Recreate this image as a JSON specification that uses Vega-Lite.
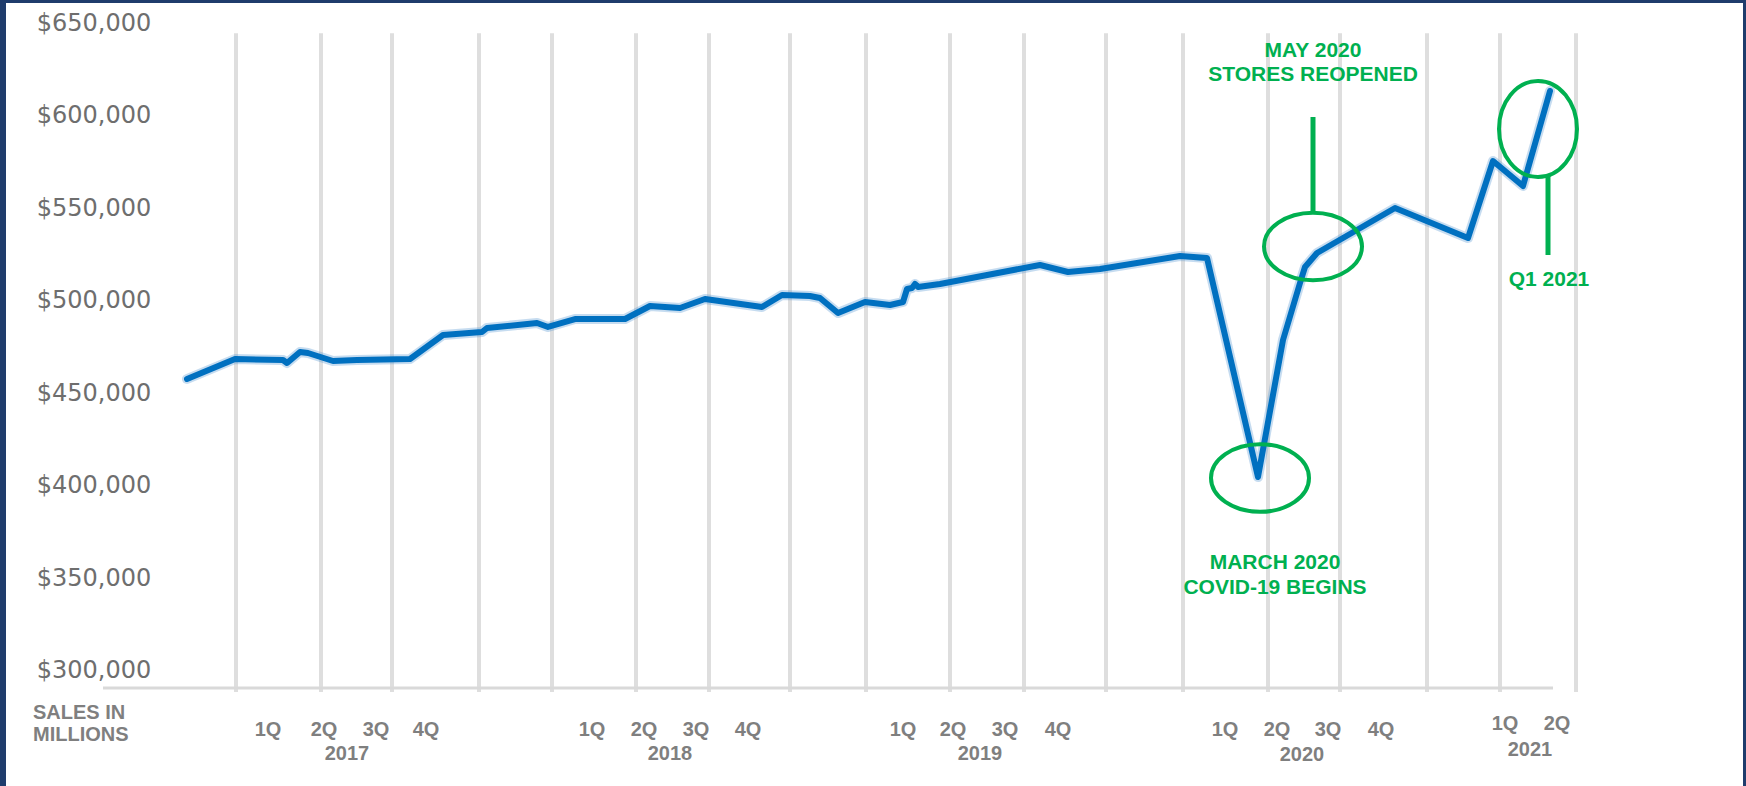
{
  "$schema": "https://vega.github.io/schema/vega-lite/v6.json",
  "width": 1746,
  "height": 786,
  "autosize": {"type": "fit", "contains": "padding"},
  "padding": {"left": 6, "top": 3, "right": 3, "bottom": 0},
  "background": "#1f3c6c",
  "config": {"view": {"fill": "#ffffff", "stroke": null}},
  "datasets": {
    "sales": [
      {"pos": 187, "sales": 457960}, {"pos": 235, "sales": 468780}, {"pos": 283, "sales": 468240},
      {"pos": 287, "sales": 466610}, {"pos": 300, "sales": 472560}, {"pos": 308, "sales": 472020},
      {"pos": 333, "sales": 467700}, {"pos": 357, "sales": 468240}, {"pos": 410, "sales": 468780},
      {"pos": 443, "sales": 481760}, {"pos": 482, "sales": 483380}, {"pos": 487, "sales": 485550},
      {"pos": 537, "sales": 488250}, {"pos": 548, "sales": 486090}, {"pos": 575, "sales": 490410},
      {"pos": 625, "sales": 490410}, {"pos": 650, "sales": 497450}, {"pos": 680, "sales": 496370},
      {"pos": 705, "sales": 501230}, {"pos": 762, "sales": 496910}, {"pos": 782, "sales": 503400},
      {"pos": 810, "sales": 502860}, {"pos": 820, "sales": 501770}, {"pos": 838, "sales": 493660},
      {"pos": 865, "sales": 499610}, {"pos": 890, "sales": 497990}, {"pos": 903, "sales": 499610},
      {"pos": 907, "sales": 506640}, {"pos": 912, "sales": 507180}, {"pos": 915, "sales": 509350},
      {"pos": 918, "sales": 507730}, {"pos": 940, "sales": 509350}, {"pos": 1040, "sales": 519630},
      {"pos": 1068, "sales": 515840}, {"pos": 1100, "sales": 517460}, {"pos": 1180, "sales": 524490},
      {"pos": 1207, "sales": 523410}, {"pos": 1258, "sales": 404940}, {"pos": 1283, "sales": 479050},
      {"pos": 1300, "sales": 509890}, {"pos": 1305, "sales": 518540}, {"pos": 1317, "sales": 526120},
      {"pos": 1395, "sales": 550460}, {"pos": 1468, "sales": 534230}, {"pos": 1493, "sales": 575890},
      {"pos": 1523, "sales": 562360}, {"pos": 1550, "sales": 613750}
    ],
    "grid": [
      {"pos": 236}, {"pos": 321}, {"pos": 392}, {"pos": 479}, {"pos": 552}, {"pos": 636},
      {"pos": 709}, {"pos": 790}, {"pos": 866}, {"pos": 950}, {"pos": 1024}, {"pos": 1106},
      {"pos": 1183}, {"pos": 1268}, {"pos": 1340}, {"pos": 1427}, {"pos": 1500}, {"pos": 1576}
    ],
    "baseline": [{"pos": 103, "pos2": 1553, "sales": 290804}],
    "ticks": [
      {"sales": 300000}, {"sales": 350000}, {"sales": 400000}, {"sales": 450000},
      {"sales": 500000}, {"sales": 550000}, {"sales": 600000}, {"sales": 650000}
    ],
    "wideRings": [
      {"pos": 1260, "sales": 404400},
      {"pos": 1313, "sales": 529630}
    ],
    "tallRing": [{"pos": 1538, "sales": 593200}],
    "pointers": [
      {"pos": 1313, "sales": 599690, "sales2": 547760},
      {"pos": 1548, "sales": 568310, "sales2": 525040}
    ],
    "notes": [
      {"pos": 1313, "sales": 635390, "label": "MAY 2020"},
      {"pos": 1313, "sales": 622400, "label": "STORES REOPENED"},
      {"pos": 1549, "sales": 511510, "label": "Q1 2021"},
      {"pos": 1275, "sales": 358420, "label": "MARCH 2020"},
      {"pos": 1275, "sales": 344900, "label": "COVID-19 BEGINS"}
    ],
    "quarters": [
      {"pos": 268, "sales": 268080, "label": "1Q"}, {"pos": 324, "sales": 268080, "label": "2Q"},
      {"pos": 376, "sales": 268080, "label": "3Q"}, {"pos": 426, "sales": 268080, "label": "4Q"},
      {"pos": 347, "sales": 255100, "label": "2017"},
      {"pos": 592, "sales": 268080, "label": "1Q"}, {"pos": 644, "sales": 268080, "label": "2Q"},
      {"pos": 696, "sales": 268080, "label": "3Q"}, {"pos": 748, "sales": 268080, "label": "4Q"},
      {"pos": 670, "sales": 255100, "label": "2018"},
      {"pos": 903, "sales": 268080, "label": "1Q"}, {"pos": 953, "sales": 268080, "label": "2Q"},
      {"pos": 1005, "sales": 268080, "label": "3Q"}, {"pos": 1058, "sales": 268080, "label": "4Q"},
      {"pos": 980, "sales": 255100, "label": "2019"},
      {"pos": 1225, "sales": 268080, "label": "1Q"}, {"pos": 1277, "sales": 268080, "label": "2Q"},
      {"pos": 1328, "sales": 268080, "label": "3Q"}, {"pos": 1381, "sales": 268080, "label": "4Q"},
      {"pos": 1302, "sales": 254560, "label": "2020"},
      {"pos": 1505, "sales": 271330, "label": "1Q"}, {"pos": 1557, "sales": 271330, "label": "2Q"},
      {"pos": 1530, "sales": 257260, "label": "2021"}
    ],
    "unitNote": [
      {"pos": 33, "sales": 277280, "label": "SALES IN"},
      {"pos": 33, "sales": 265380, "label": "MILLIONS"}
    ]
  },
  "layer": [
    {
      "data": {"name": "grid"},
      "mark": {"type": "rule", "color": "#dedede", "strokeWidth": 4},
      "encoding": {
        "x": {"field": "pos", "type": "quantitative", "scale": {"domain": [6, 1743], "nice": false, "zero": false}, "axis": null},
        "y": {"datum": 645000, "type": "quantitative", "scale": {"domain": [237791, 661355], "nice": false, "zero": false}, "axis": null},
        "y2": {"datum": 288600}
      }
    },
    {
      "data": {"name": "baseline"},
      "mark": {"type": "rule", "color": "#d9d9d9", "strokeWidth": 3},
      "encoding": {
        "x": {"field": "pos", "type": "quantitative", "scale": {"domain": [6, 1743], "nice": false, "zero": false}, "axis": null},
        "x2": {"field": "pos2"},
        "y": {"field": "sales", "type": "quantitative", "scale": {"domain": [237791, 661355], "nice": false, "zero": false}, "axis": null}
      }
    },
    {
      "data": {"name": "sales"},
      "mark": {"type": "line", "color": "#5b9bd5", "strokeWidth": 10, "opacity": 0.35, "strokeJoin": "round", "strokeCap": "round"},
      "encoding": {
        "x": {"field": "pos", "type": "quantitative", "scale": {"domain": [6, 1743], "nice": false, "zero": false}, "axis": null},
        "y": {"field": "sales", "type": "quantitative", "scale": {"domain": [237791, 661355], "nice": false, "zero": false}, "axis": null}
      }
    },
    {
      "data": {"name": "sales"},
      "mark": {"type": "line", "color": "#0070c0", "strokeWidth": 6, "strokeJoin": "round", "strokeCap": "round"},
      "encoding": {
        "x": {"field": "pos", "type": "quantitative", "scale": {"domain": [6, 1743], "nice": false, "zero": false}, "axis": null},
        "y": {"field": "sales", "type": "quantitative", "scale": {"domain": [237791, 661355], "nice": false, "zero": false}, "axis": null}
      }
    },
    {
      "data": {"name": "wideRings"},
      "mark": {"type": "point", "shape": "M-1,0A1,0.69,0,1,0,1,0A1,0.69,0,1,0,-1,0Z", "size": 9604, "filled": false, "color": "#00b050", "strokeWidth": 4, "opacity": 1},
      "encoding": {
        "x": {"field": "pos", "type": "quantitative", "scale": {"domain": [6, 1743], "nice": false, "zero": false}, "axis": null},
        "y": {"field": "sales", "type": "quantitative", "scale": {"domain": [237791, 661355], "nice": false, "zero": false}, "axis": null}
      }
    },
    {
      "data": {"name": "tallRing"},
      "mark": {"type": "point", "shape": "M-0.8125,0A0.8125,1,0,1,0,0.8125,0A0.8125,1,0,1,0,-0.8125,0Z", "size": 9216, "filled": false, "color": "#00b050", "strokeWidth": 4, "opacity": 1},
      "encoding": {
        "x": {"field": "pos", "type": "quantitative", "scale": {"domain": [6, 1743], "nice": false, "zero": false}, "axis": null},
        "y": {"field": "sales", "type": "quantitative", "scale": {"domain": [237791, 661355], "nice": false, "zero": false}, "axis": null}
      }
    },
    {
      "data": {"name": "pointers"},
      "mark": {"type": "rule", "color": "#00b050", "strokeWidth": 5},
      "encoding": {
        "x": {"field": "pos", "type": "quantitative", "scale": {"domain": [6, 1743], "nice": false, "zero": false}, "axis": null},
        "y": {"field": "sales", "type": "quantitative", "scale": {"domain": [237791, 661355], "nice": false, "zero": false}, "axis": null},
        "y2": {"field": "sales2"}
      }
    },
    {
      "data": {"name": "notes"},
      "mark": {"type": "text", "font": "Liberation Sans", "fontWeight": "bold", "fontSize": 21, "color": "#00b050", "align": "center", "baseline": "middle"},
      "encoding": {
        "x": {"field": "pos", "type": "quantitative", "scale": {"domain": [6, 1743], "nice": false, "zero": false}, "axis": null},
        "y": {"field": "sales", "type": "quantitative", "scale": {"domain": [237791, 661355], "nice": false, "zero": false}, "axis": null},
        "text": {"field": "label", "type": "nominal"}
      }
    },
    {
      "data": {"name": "quarters"},
      "mark": {"type": "text", "font": "Liberation Sans", "fontWeight": "bold", "fontSize": 20, "color": "#7f7f7f", "align": "center", "baseline": "middle"},
      "encoding": {
        "x": {"field": "pos", "type": "quantitative", "scale": {"domain": [6, 1743], "nice": false, "zero": false}, "axis": null},
        "y": {"field": "sales", "type": "quantitative", "scale": {"domain": [237791, 661355], "nice": false, "zero": false}, "axis": null},
        "text": {"field": "label", "type": "nominal"}
      }
    },
    {
      "data": {"name": "unitNote"},
      "mark": {"type": "text", "font": "Liberation Sans", "fontWeight": "bold", "fontSize": 20, "color": "#7f7f7f", "align": "left", "baseline": "middle"},
      "encoding": {
        "x": {"field": "pos", "type": "quantitative", "scale": {"domain": [6, 1743], "nice": false, "zero": false}, "axis": null},
        "y": {"field": "sales", "type": "quantitative", "scale": {"domain": [237791, 661355], "nice": false, "zero": false}, "axis": null},
        "text": {"field": "label", "type": "nominal"}
      }
    },
    {
      "data": {"name": "ticks"},
      "mark": {"type": "text", "font": "DejaVu Sans", "fontSize": 24, "color": "#6e6e6e", "align": "center", "baseline": "middle"},
      "encoding": {
        "x": {"datum": 94, "type": "quantitative", "scale": {"domain": [6, 1743], "nice": false, "zero": false}, "axis": null},
        "y": {"field": "sales", "type": "quantitative", "scale": {"domain": [237791, 661355], "nice": false, "zero": false}, "axis": null},
        "text": {"field": "sales", "type": "quantitative", "format": "$,"}
      }
    }
  ]
}
